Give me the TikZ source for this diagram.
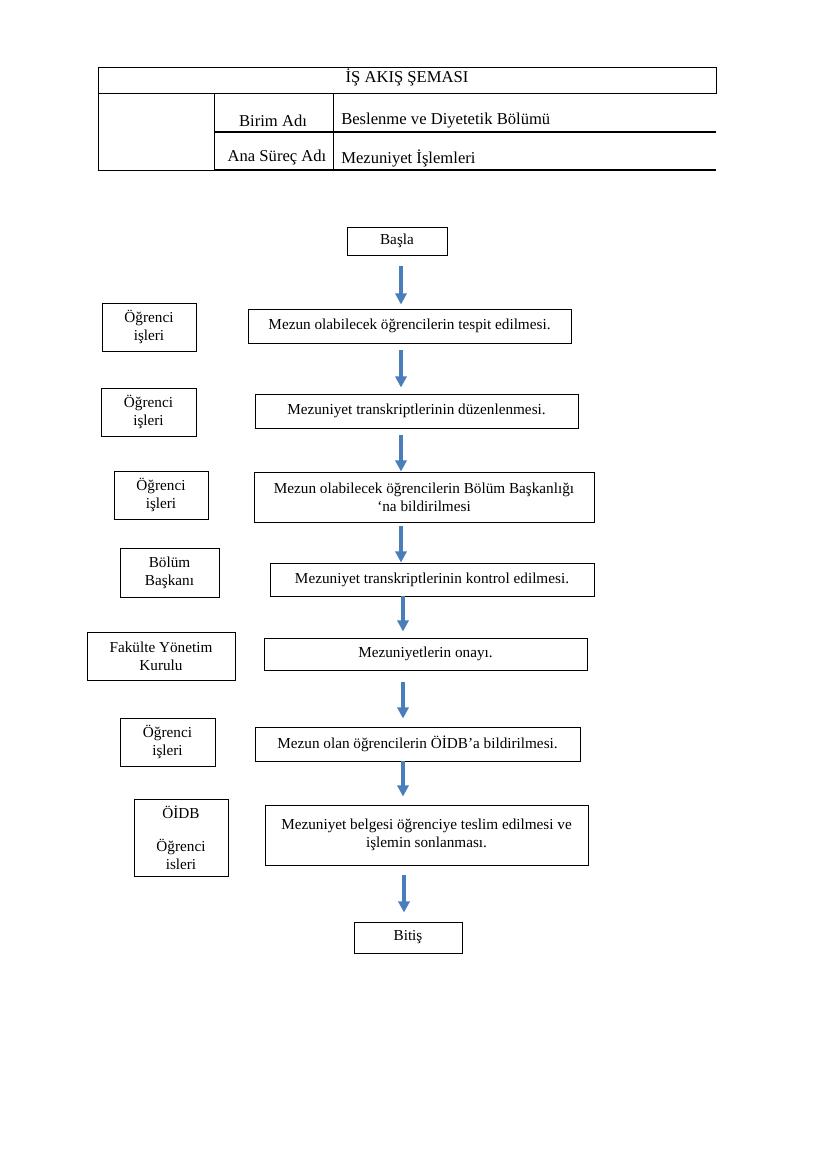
\documentclass[tikz,border=0pt]{standalone}
\usepackage{fontspec}
\setmainfont{Liberation Serif}
\usetikzlibrary{arrows.meta,calc}
\definecolor{arrblue}{RGB}{74,126,187}
\def\pxu{0.2539mm}
\tikzset{
  box/.style={draw, line width=0.7pt, rectangle, inner sep=1pt, align=center,
              font=\fontsize{11}{13}\selectfont},
  hdr/.style={inner sep=0pt, font=\fontsize{12}{14}\selectfont},
  tline/.style={line width=0.7pt},
  arr/.style={draw=arrblue, line width=2.2pt,
              -{Triangle[length=8pt,width=8pt]}},
}
\newcommand{\bx}[6]{% name, x1,y1,x2,y2, text
  \node[box, minimum width={(#4-#2)*0.2539mm}, minimum height={(#5-#3)*0.2539mm}]
    (#1) at ({(#2+#4)/2},{(#3+#5)/2}) {#6};}
\begin{document}
\begin{tikzpicture}[x=0.2539mm,y=-0.2539mm]
\useasboundingbox (0,0) rectangle (827,1169);
% header table
\draw[tline] (98,67) rectangle (716,93);
\draw[tline] (98,93) -- (98,170) -- (716,170);
\draw[tline] (214,93) -- (214,170);
\draw[tline] (333,93) -- (333,170);
\draw[line width=1pt] (214,132) -- (716,132);
\draw[line width=1pt] (214,170) -- (716,170);
\node[hdr] (title) at (407,77) {İŞ AKIŞ ŞEMASI};
\node[hdr] (birim) at (273,121) {Birim Adı};
\node[hdr, anchor=west] (birimv) at (341,121) {Beslenme ve Diyetetik Bölümü};
\node[hdr] (surec) at (277,158) {Ana Süreç Adı};
\node[hdr, anchor=west] (surecv) at (341,158) {Mezuniyet İşlemleri};
% flow boxes
\bx{basla}{347}{227}{447}{255}{Başla}
\bx{b1}{248}{309}{571}{343}{Mezun olabilecek öğrencilerin tespit edilmesi.}
\bx{l1}{102}{303}{196}{351}{Öğrenci\\işleri}
\bx{b2}{255}{394}{578}{428}{Mezuniyet transkriptlerinin düzenlenmesi.}
\bx{l2}{101}{388}{196}{436}{Öğrenci\\işleri}
\bx{b3}{254}{472}{594}{522}{Mezun olabilecek öğrencilerin Bölüm Başkanlığı\\‘na bildirilmesi}
\bx{l3}{114}{471}{208}{519}{Öğrenci\\işleri}
\bx{b4}{270}{563}{594}{596}{Mezuniyet transkriptlerinin kontrol edilmesi.}
\bx{l4}{120}{548}{219}{597}{Bölüm\\Başkanı}
\bx{b5}{264}{638}{587}{670}{Mezuniyetlerin onayı.}
\bx{l5}{87}{632}{235}{680}{Fakülte Yönetim\\Kurulu}
\bx{b6}{255}{727}{580}{761}{Mezun olan öğrencilerin ÖİDB’a bildirilmesi.}
\bx{l6}{120}{718}{215}{766}{Öğrenci\\işleri}
\bx{b7}{265}{805}{588}{865}{Mezuniyet belgesi öğrenciye teslim edilmesi ve\\işlemin sonlanması.}
\bx{l7}{134}{799}{228}{876}{ÖİDB\\[11pt]Öğrenci\\isleri}
\bx{bitis}{354}{922}{462}{953}{Bitiş}
% arrows
\draw[arr, shorten <=11*\pxu, shorten >=4*\pxu] (basla.south -| 401,0) -- (b1.north -| 401,0);
\draw[arr, shorten <=7*\pxu, shorten >=6*\pxu] (b1.south -| 401,0) -- (b2.north -| 401,0);
\draw[arr, shorten <=7*\pxu, shorten >=0pt] (b2.south -| 401,0) -- (b3.north -| 401,0);
\draw[arr, shorten <=4*\pxu, shorten >=0pt] (b3.south -| 401,0) -- (b4.north -| 401,0);
\draw[arr, shorten <=0pt, shorten >=6*\pxu] (b4.south -| 403,0) -- (b5.north -| 403,0);
\draw[arr, shorten <=12*\pxu, shorten >=8*\pxu] (b5.south -| 403,0) -- (b6.north -| 403,0);
\draw[arr, shorten <=0pt, shorten >=8*\pxu] (b6.south -| 403,0) -- (b7.north -| 403,0);
\draw[arr, shorten <=10*\pxu, shorten >=9*\pxu] (b7.south -| 404,0) -- (bitis.north -| 404,0);
\end{tikzpicture}
\end{document}
